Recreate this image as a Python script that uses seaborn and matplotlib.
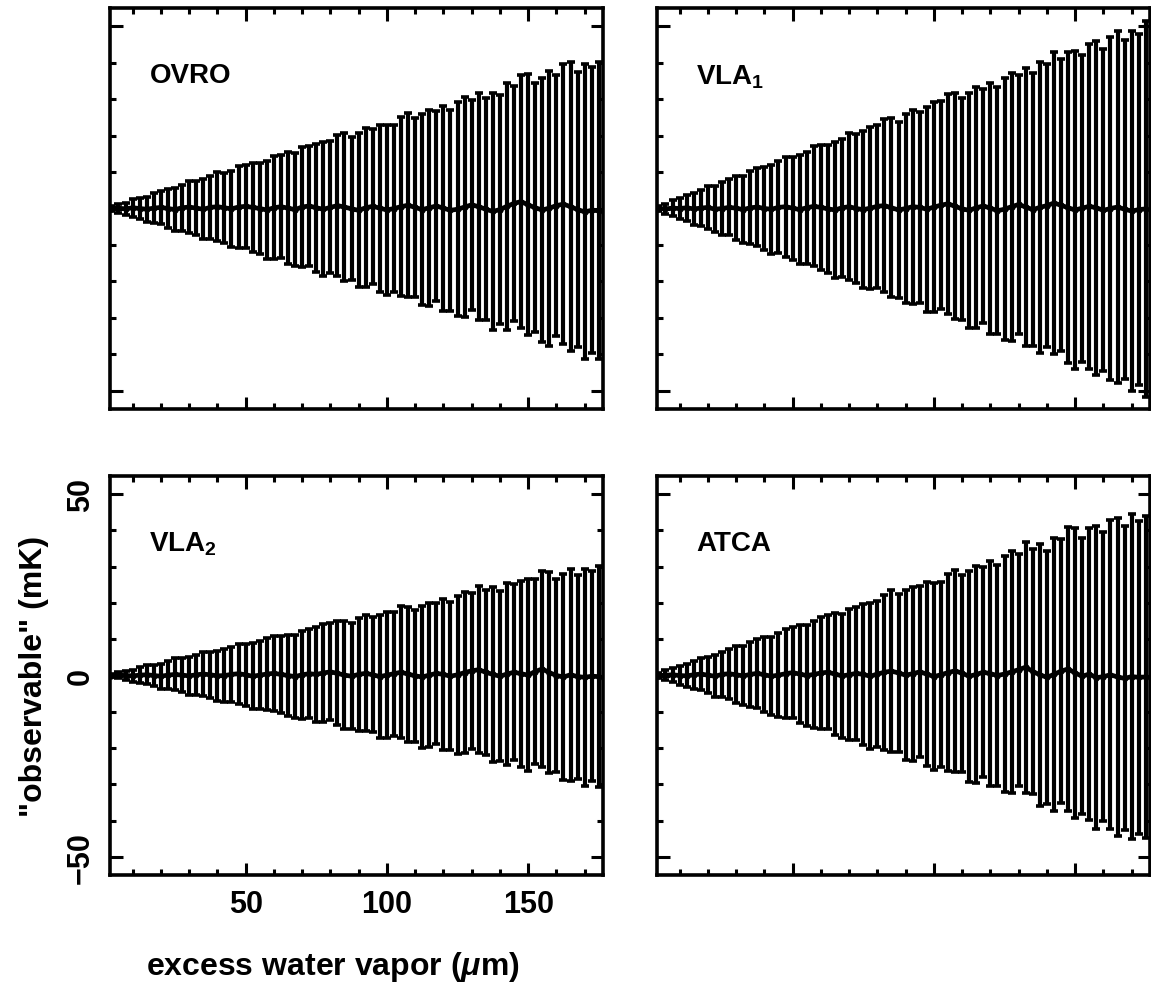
import numpy as np
import pandas as pd
import matplotlib
matplotlib.use("Agg")
import matplotlib.pyplot as plt
import seaborn as sns
from matplotlib.ticker import MultipleLocator

# ---- data -------------------------------------------------------------
vapor_um = [2.5 * k for k in range(1, 71)]

panel_names = ["OVRO", "VLA$_1$", "VLA$_2$", "ATCA"]

ovro_err = [0.6, 1.2, 1.7, 2.4, 2.9, 3.4, 4.1, 4.6, 5.3, 5.8,
            6.3, 7.1, 7.4, 8.2, 8.6, 9.4, 9.6, 10.5, 11.2, 11.4,
            12.3, 12.5, 13.4, 14.1, 14.2, 15.3, 15.4, 16.4, 16.5, 17.6,
            18.4, 18.1, 19.3, 20.2, 19.6, 21.1, 21.8, 21.2, 22.9, 23.4,
            23.0, 24.6, 25.2, 24.5, 26.3, 26.9, 26.0, 28.1, 27.5, 29.4,
            30.1, 28.9, 31.2, 30.5, 32.6, 31.4, 33.9, 32.2, 34.6, 35.8,
            34.1, 36.3, 37.7, 35.9, 38.4, 39.6, 37.8, 40.5, 39.2, 40.8]
ovro_val = [0.0, 0.1, -0.1, 0.2, 0.0, -0.2, 0.1, 0.3, 0.0, -0.3,
            0.2, 0.4, 0.1, -0.2, 0.3, 0.5, 0.2, -0.1, 0.4, 0.6,
            0.3, 0.0, -0.4, 0.2, 0.5, 0.1, -0.3, 0.4, 0.7, 0.2,
            -0.2, 0.3, 0.8, 0.4, -0.1, -0.5, 0.2, 0.6, 0.1, -0.4,
            0.0, 0.5, 0.9, 0.3, -0.3, 0.2, 0.7, 0.1, -0.5, -0.2,
            0.4, 1.0, 0.5, -0.2, -0.8, -0.3, 0.6, 1.4, 1.9, 1.0,
            0.2, -0.4, 0.1, 0.8, 1.2, 0.5, -0.3, -0.9, -0.5, -0.6]

vla1_err = [0.7, 1.4, 2.2, 2.8, 3.6, 4.3, 4.9, 5.8, 6.3, 7.2,
            7.7, 8.7, 9.1, 10.0, 10.8, 11.3, 12.2, 12.6, 13.7, 14.1,
            15.0, 15.4, 16.5, 17.2, 17.5, 18.7, 19.0, 20.1, 20.4, 21.6,
            22.3, 22.4, 23.8, 24.5, 24.1, 26.0, 26.6, 26.3, 28.1, 28.7,
            28.5, 30.2, 31.0, 30.4, 32.3, 33.1, 32.2, 34.4, 33.8, 36.0,
            36.8, 35.6, 38.2, 37.5, 40.0, 38.9, 41.3, 40.1, 42.6, 43.5,
            42.1, 44.6, 45.8, 44.2, 47.0, 48.3, 46.5, 49.4, 48.2, 51.5]
vla1_val = [0.0, -0.1, 0.1, 0.0, 0.2, -0.1, 0.1, 0.3, -0.2, 0.0,
            0.3, 0.1, -0.3, 0.2, 0.4, 0.0, -0.2, 0.3, 0.5, 0.1,
            -0.3, 0.2, 0.6, 0.3, -0.1, -0.4, 0.2, 0.5, 0.0, -0.3,
            0.1, 0.6, 0.8, 0.2, -0.4, 0.0, 0.5, 0.3, -0.2, 0.4,
            0.9, 1.3, 0.6, -0.1, -0.5, 0.2, 0.7, 0.1, -0.6, -0.2,
            0.5, 1.1, 0.4, -0.3, 0.3, 0.8, 1.5, 0.9, 0.2, -0.4,
            0.1, 0.6, 0.2, -0.5, 0.0, 0.4, -0.2, -0.7, -0.3, -0.1]

vla2_err = [0.4, 0.9, 1.3, 1.7, 2.2, 2.6, 3.0, 3.5, 3.8, 4.4,
            4.7, 5.2, 5.5, 6.1, 6.4, 6.9, 7.3, 7.6, 8.3, 8.5,
            9.1, 9.3, 9.9, 10.4, 10.6, 11.3, 11.4, 12.2, 12.3, 13.0,
            13.5, 13.4, 14.3, 14.8, 14.6, 15.6, 16.0, 15.8, 16.9, 17.3,
            17.1, 18.2, 18.6, 18.2, 19.5, 19.9, 19.4, 20.8, 20.4, 21.8,
            22.3, 21.5, 23.1, 22.7, 24.1, 23.4, 25.0, 24.3, 25.6, 26.4,
            25.4, 26.9, 27.8, 26.7, 28.4, 29.2, 28.1, 29.9, 29.0, 30.4]
vla2_val = [0.0, 0.1, 0.0, -0.1, 0.1, 0.2, 0.0, -0.2, 0.1, 0.3,
            0.1, -0.1, 0.2, 0.4, 0.2, -0.1, 0.0, 0.3, 0.5, 0.2,
            -0.2, 0.1, 0.4, 0.6, 0.3, 0.0, -0.3, 0.2, 0.5, 0.3,
            0.7, 1.0, 0.6, 0.1, -0.2, 0.3, 0.6, 0.2, -0.3, 0.1,
            0.5, 0.9, 0.4, -0.1, -0.4, 0.1, 0.6, 0.3, -0.2, 0.2,
            0.8, 1.3, 1.6, 0.9, 0.3, -0.2, 0.4, 0.9, 0.5, 0.1,
            1.1, 1.8, 0.8, 0.0, -0.4, 0.2, -0.3, -0.5, -0.2, -0.3]

atca_err = [0.6, 1.3, 1.9, 2.6, 3.2, 3.8, 4.5, 5.0, 5.8, 6.3,
            6.9, 7.8, 8.1, 9.0, 9.5, 10.3, 10.7, 11.5, 12.3, 12.6,
            13.5, 13.8, 14.8, 15.5, 15.7, 16.9, 17.1, 18.1, 18.3, 19.5,
            20.2, 20.1, 21.4, 22.3, 21.7, 23.4, 24.0, 23.6, 25.3, 25.8,
            25.5, 27.2, 27.9, 27.2, 29.1, 29.8, 28.9, 31.1, 30.4, 32.5,
            33.3, 32.0, 34.6, 33.8, 36.1, 34.9, 37.6, 36.4, 39.2, 40.0,
            38.0, 40.3, 41.7, 39.8, 42.6, 43.8, 41.9, 44.8, 43.2, 44.5]
atca_val = [0.0, 0.1, 0.2, 0.0, -0.1, 0.2, 0.4, 0.1, -0.2, 0.3,
            0.5, 0.2, -0.1, 0.3, 0.6, 0.2, -0.2, 0.1, 0.5, 0.8,
            0.4, 0.0, 0.3, 0.7, 0.9, 0.4, -0.1, 0.2, 0.6, 0.3,
            -0.2, 0.4, 0.9, 1.2, 0.7, 0.1, 0.5, 1.0, 0.4, -0.3,
            0.2, 0.8, 1.3, 0.6, -0.2, 0.3, 0.9, 0.5, 0.0, 0.4,
            1.0, 1.6, 2.3, 1.1, 0.2, -0.5, 0.3, 1.2, 1.8, 0.7,
            -0.2, 0.4, -0.6, -0.3, 0.2, -0.4, -0.8, -0.3, -0.5, -0.4]

values = [ovro_val, vla1_val, vla2_val, atca_val]
errors = [ovro_err, vla1_err, vla2_err, atca_err]

x_major = [50, 100, 150]
y_major = [-50, 0, 50]

# ---- style ------------------------------------------------------------
sns.set_theme(style="ticks")
plt.rcParams["font.family"] = ["Liberation Sans", "DejaVu Sans"]
plt.rcParams["font.weight"] = "bold"
plt.rcParams["text.color"] = "black"
plt.rcParams["xtick.color"] = "black"
plt.rcParams["ytick.color"] = "black"
plt.rcParams["axes.labelcolor"] = "black"
plt.rcParams["mathtext.fontset"] = "custom"
plt.rcParams["mathtext.rm"] = "Liberation Sans:bold"
plt.rcParams["mathtext.it"] = "Liberation Sans:bold:italic"
plt.rcParams["mathtext.bf"] = "Liberation Sans:bold"

W, H = 1151, 995
fig = plt.figure(figsize=(W / 100, H / 100), dpi=100)
fig.patch.set_facecolor("white")

# axes rectangles (pixels: left, top, right, bottom)
rects = [(110, 9, 603, 410), (657, 9, 1150, 410),
         (110, 477, 603, 876), (657, 477, 1150, 876)]

for i, (l, t, r, b) in enumerate(rects):
    ax = fig.add_axes([l / W, 1 - b / H, (r - l) / W, (b - t) / H])
    df = pd.DataFrame({"x": vapor_um, "y": values[i], "e": errors[i]})
    ax.errorbar(df["x"], df["y"], yerr=df["e"], fmt="none", ecolor="black",
                elinewidth=3.0, capsize=2.8, capthick=2.6, zorder=2)
    sns.lineplot(data=df, x="x", y="y", ax=ax, color="black", lw=3.4,
                 marker="o", markersize=4.5, markeredgewidth=0,
                 zorder=3, legend=False)
    ax.set_xlim(2.0, 176.5)
    ax.set_ylim(-55, 55)
    ax.xaxis.set_major_locator(MultipleLocator(50))
    ax.xaxis.set_minor_locator(MultipleLocator(10))
    ax.yaxis.set_major_locator(MultipleLocator(50))
    ax.yaxis.set_minor_locator(MultipleLocator(10))
    ax.tick_params(which="both", direction="in", top=True, right=True,
                   width=2.2, color="black", labelcolor="black",
                   labelsize=22, pad=10)
    ax.tick_params(which="major", length=9)
    ax.tick_params(which="minor", length=4.5)
    for sp in ax.spines.values():
        sp.set_linewidth(2.6)
        sp.set_color("black")
    ax.set_xlabel("")
    ax.set_ylabel("")
    if i == 2:
        ax.set_xticks(x_major)
        ax.set_yticks(y_major)
        ax.set_xticklabels([str(v) for v in x_major], fontweight="bold")
        ax.set_yticklabels([str(v).replace("-", "\u2212") for v in y_major],
                           rotation=90, va="center", fontweight="bold")
        ax.set_xlabel(r"excess water vapor ($\mu$m)", fontsize=23,
                      fontweight="bold")
        ax.xaxis.set_label_coords(0.452, -0.185)
        ax.set_ylabel('"observable" (mK)', fontsize=23, fontweight="bold",
                      labelpad=12)
    else:
        ax.set_xticklabels([])
        ax.set_yticklabels([])
    ax.text(0.08, 0.865, panel_names[i], transform=ax.transAxes,
            fontsize=20, fontweight="bold", va="top", ha="left")

fig.savefig("out.png", dpi=100, facecolor="white")
